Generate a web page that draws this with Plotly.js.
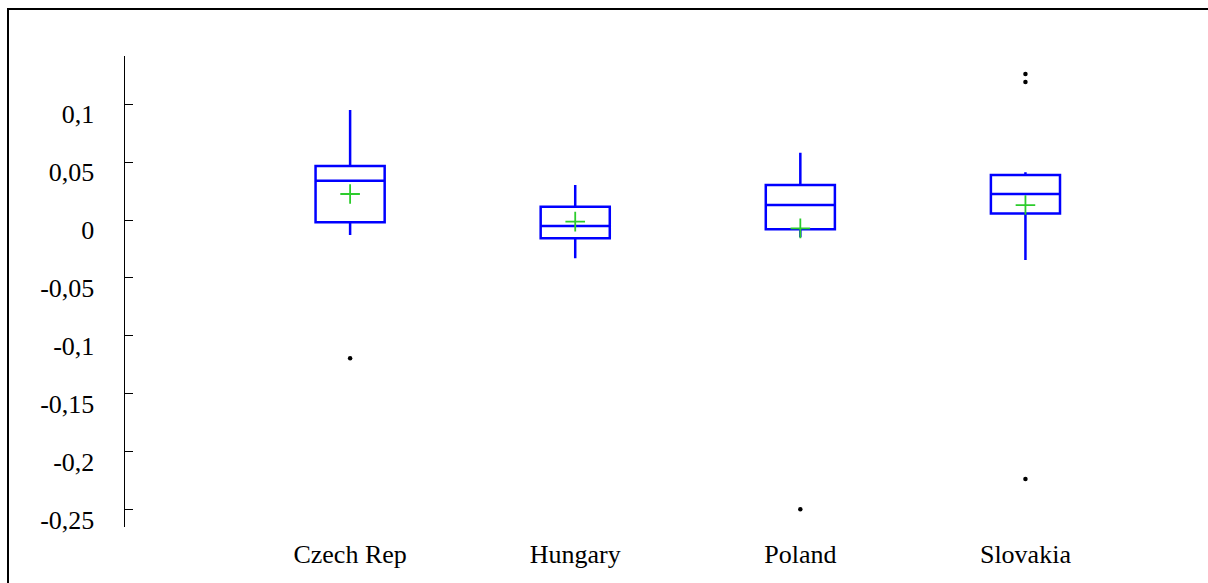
<!DOCTYPE html>
<html>
<head>
<meta charset="utf-8">
<script src="https://cdn.plot.ly/plotly-3.0.1.min.js"></script>
<style>
  html, body { margin: 0; padding: 0; background: #fff; overflow: hidden; }
  #wrap { position: relative; width: 1208px; height: 583px; overflow: hidden; }
  #chart { position: absolute; left: 0; top: 0; width: 1208px; height: 583px; }
  #ftop { position: absolute; left: 7px; top: 8px; width: 1201px; height: 2px; background: #000; pointer-events: none; }
  #fleft { position: absolute; left: 7px; top: 8px; width: 2px; height: 575px; background: #000; pointer-events: none; }
</style>
</head>
<body>
<div id="wrap">
  <div id="chart"></div>
  <div id="ftop"></div>
  <div id="fleft"></div>
</div>
<script>
// Data
const countries = ["Czech Rep", "Hungary", "Poland", "Slovakia"];
const positions = [0, 1, 2, 3];
const q1Values      = [-0.002, -0.0158, -0.008, 0.0057];
const medianValues  = [0.0339, -0.0052, 0.0129, 0.0224];
const q3Values      = [0.0466, 0.0115, 0.0302, 0.0388];
const lowerWhisker  = [-0.0129, -0.033, -0.0149, -0.0345];
const upperWhisker  = [0.0948, 0.0302, 0.058, 0.0411];
const meanValues    = [0.0224, -0.0014, -0.0072, 0.0129];
const outlierCountry = [0, 2, 3, 3, 3];
const outlierValues  = [-0.1193, -0.2494, 0.1259, 0.119, -0.2233];
const yTickVals  = [0.1, 0.05, 0, -0.05, -0.1, -0.15, -0.2, -0.25];
const yTickText  = ["0,1", "0,05", "0", "-0,05", "-0,1", "-0,15", "-0,2", "-0,25"];

const serif = "'Liberation Serif', 'Times New Roman', Times, serif";

const traces = [
  {
    type: "box",
    x: positions,
    q1: q1Values,
    median: medianValues,
    q3: q3Values,
    lowerfence: lowerWhisker,
    upperfence: upperWhisker,
    width: 0.307,
    whiskerwidth: 0,
    fillcolor: "rgba(0,0,0,0)",
    line: { color: "#0000ff", width: 2.5 },
    hoverinfo: "skip",
    showlegend: false
  },
  {
    type: "scatter",
    mode: "markers",
    x: positions,
    y: meanValues,
    marker: { symbol: "cross-thin", size: 14, line: { color: "#2ccc2c", width: 1.8 } },
    showlegend: false
  },
  {
    type: "scatter",
    mode: "markers",
    x: outlierCountry,
    y: outlierValues,
    marker: { symbol: "circle", size: 4.5, color: "#000" },
    showlegend: false
  }
];

const layout = {
  width: 1208,
  height: 583,
  margin: { l: 125, r: 69.5, t: 56, b: 56, pad: 0 },
  paper_bgcolor: "#fff",
  plot_bgcolor: "#fff",
  font: { family: serif, size: 26, color: "#000" },
  showlegend: false,
  xaxis: {
    range: [-1, 3.5],
    tickmode: "array",
    tickvals: positions,
    ticktext: countries,
    showgrid: false,
    zeroline: false,
    showline: false,
    ticks: "",
    ticklabelstandoff: 9,
    tickfont: { family: serif, size: 26 }
  },
  yaxis: {
    range: [-0.2647, 0.1414],
    tickmode: "array",
    tickvals: yTickVals,
    ticktext: yTickText,
    showgrid: false,
    zeroline: false,
    showline: true,
    linecolor: "#000",
    linewidth: 1.5,
    ticks: "inside",
    ticklen: 8,
    tickwidth: 1,
    tickcolor: "#000",
    ticklabelstandoff: 24,
    ticklabelshift: 10,
    tickfont: { family: serif, size: 26 }
  }
};

Plotly.newPlot("chart", traces, layout, { staticPlot: true, displayModeBar: false });
</script>
</body>
</html>
